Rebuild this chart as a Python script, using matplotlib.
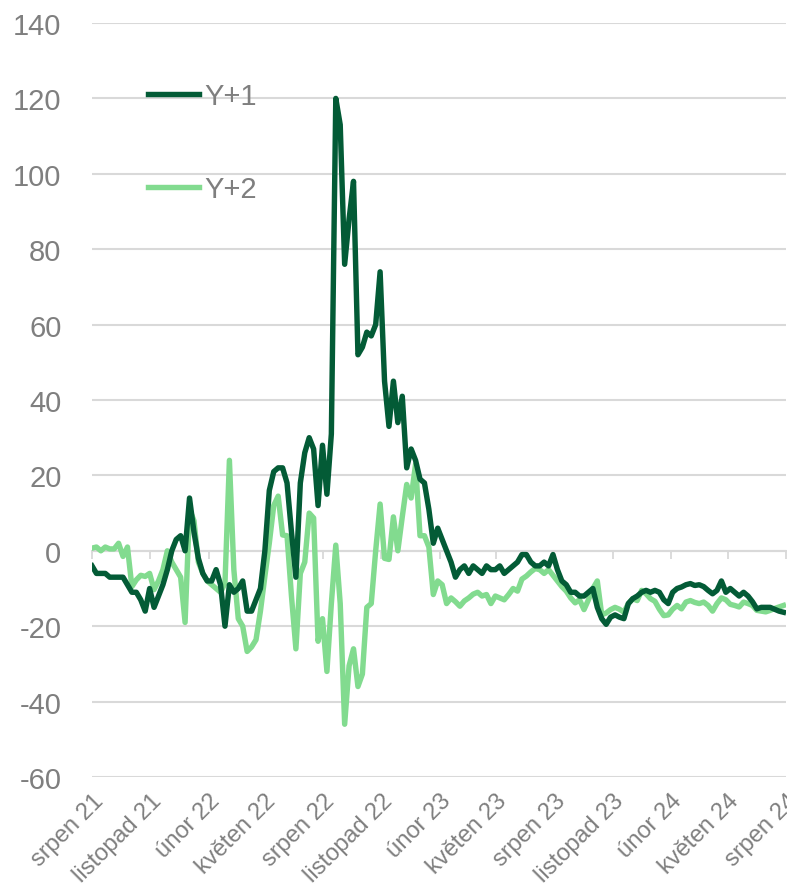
import matplotlib
matplotlib.use("Agg")
import matplotlib.pyplot as plt
import numpy as np
import pandas as pd

plt.rcParams["font.family"] = ["Liberation Sans", "DejaVu Sans"]
plt.rcParams["axes.unicode_minus"] = False

# weekly observations, Aug 2021 - Jul 2024
dates = pd.date_range("2021-08-01", periods=157, freq="7D")

y1 = [-4, -6, -6, -6, -7, -7, -7, -7, -9, -11,
      -11, -13, -16, -10, -15, -12, -9, -5, 0, 3,
      4, 0, 14, 5, -2, -6, -8, -8, -5, -9,
      -20, -9, -11, -10, -8, -16, -16, -13, -10, 0,
      16, 21, 22, 22, 18, 5, -7, 18, 26, 30,
      27, 12, 28, 15, 31, 120, 113, 76, 88, 98,
      52, 54, 58, 57, 60, 74, 45, 33, 45, 34,
      41, 22, 27, 24, 19, 18, 11, 2, 6, 3,
      0, -3, -7, -5, -4, -6, -4, -5, -6, -4,
      -5, -5, -4, -6, -5, -4, -3, -1, -1, -3,
      -4, -4, -3, -4, -1, -5, -8, -9, -11, -11,
      -12, -12, -11, -10, -15, -18, -19.5, -17.6, -17, -17.6,
      -18, -14, -12.7, -12, -11, -10.5, -11, -10.5, -11, -13,
      -14, -11, -10, -9.6, -9, -8.7, -9.2, -9, -9.5, -10.5,
      -11.4, -10.5, -8, -11, -10, -11, -12, -11, -12, -13.5,
      -15.4, -15, -15, -15, -15.5, -16, -16.3]

y2 = [0.7, 1, 0, 1, 0.5, 0.5, 2, -1.5, 1, -9.5,
      -7.7, -6.5, -6.8, -6, -10.3, -8, -5, 0, -3, -5,
      -7, -19, 11, 8, -3, -6, -8, -9, -10, -11,
      -8.6, 24, -5, -18, -20, -26.7, -25.5, -23.6, -16, -6.8,
      2, 12, 14.5, 4.2, 4, -12, -26, -6, -3, 10,
      8.7, -24, -18, -32, -14, 1.5, -14, -46, -30.5, -26,
      -36, -32.7, -15, -14, 0, 12.4, -2, -2.3, 9, 0,
      9, 17.6, 14, 23, 4, 4, 1, -11.6, -8, -9,
      -14, -12.5, -13.5, -14.7, -13.3, -12.5, -11.5, -11, -12, -11.6,
      -14, -12, -12.5, -13, -11.6, -10, -10.7, -7.5, -6.7, -5.6,
      -4.7, -5, -6, -5, -6.5, -8, -9.5, -10.7, -12.5, -13.8,
      -13, -15.6, -13, -10, -8, -17, -16.5, -15.6, -15, -15.5,
      -16.3, -14, -12.7, -13.2, -10.5, -11.4, -12.7, -13.4, -15.5, -17.2,
      -17, -15.5, -14.5, -15.4, -13.6, -13.2, -13.7, -14, -13.6, -14.5,
      -16, -14, -12.5, -13, -14.2, -14.5, -14.9, -13.6, -14, -14.5,
      -15.8, -16, -16.2, -15.8, -15.3, -14.9, -14.5]

tick_dates = pd.date_range("2021-08-01", "2024-08-01", freq="3MS")
tick_labels = ["srpen 21", "listopad 21", "únor 22", "květen 22", "srpen 22",
               "listopad 22", "únor 23", "květen 23", "srpen 23", "listopad 23",
               "únor 24", "květen 24", "srpen 24"]

DARK = "#035b36"
LIGHT = "#82db8f"
GRID = "#d9d9d9"
TXT = "#7f7f7f"

fig = plt.figure(figsize=(7.87, 8.87), dpi=100)
ax = fig.add_axes([92 / 787, 1 - 778 / 887, 694 / 787, 754 / 887])

ax.plot(dates, y1, color=DARK, lw=3.9, label="Y+1", solid_joinstyle="round", zorder=3)
ax.plot(dates, y2, color=LIGHT, lw=3.9, label="Y+2", solid_joinstyle="round", zorder=2)

ax.set_ylim(-60, 140)
ax.set_yticks(np.arange(-60, 141, 20))
ax.set_xlim(tick_dates[0], tick_dates[-1])
ax.set_xticks(tick_dates)
ax.set_xticklabels(tick_labels, rotation=45, ha="right", va="top",
                   rotation_mode="anchor", color=TXT, fontsize=17)
ax.tick_params(axis="x", length=0, pad=9)
ax.tick_params(axis="y", length=0, pad=22, labelsize=21, labelcolor=TXT)

ax.grid(axis="y", color=GRID, lw=1.5)
ax.set_axisbelow(True)
for s in ax.spines.values():
    s.set_visible(False)

# category axis crossing at zero, with outward ticks
zero_pos = (0 - (-60)) / 200
sec = ax.secondary_xaxis(zero_pos)
sec.set_xticks(tick_dates)
sec.tick_params(axis="x", direction="out", length=6, width=1.3, color=GRID,
                labelbottom=False, labeltop=False, bottom=True, top=False)
sec.spines["bottom"].set_color(GRID)
sec.spines["bottom"].set_linewidth(1.5)
sec.spines["top"].set_visible(False)

leg = ax.legend(loc="upper left", bbox_to_anchor=(0.08, 0.922), frameon=False,
                fontsize=21, handlelength=1.75, handletextpad=0.2,
                labelspacing=2.25, borderpad=0, borderaxespad=0)
for t in leg.get_texts():
    t.set_color(TXT)

fig.savefig("out.png", dpi=100)
